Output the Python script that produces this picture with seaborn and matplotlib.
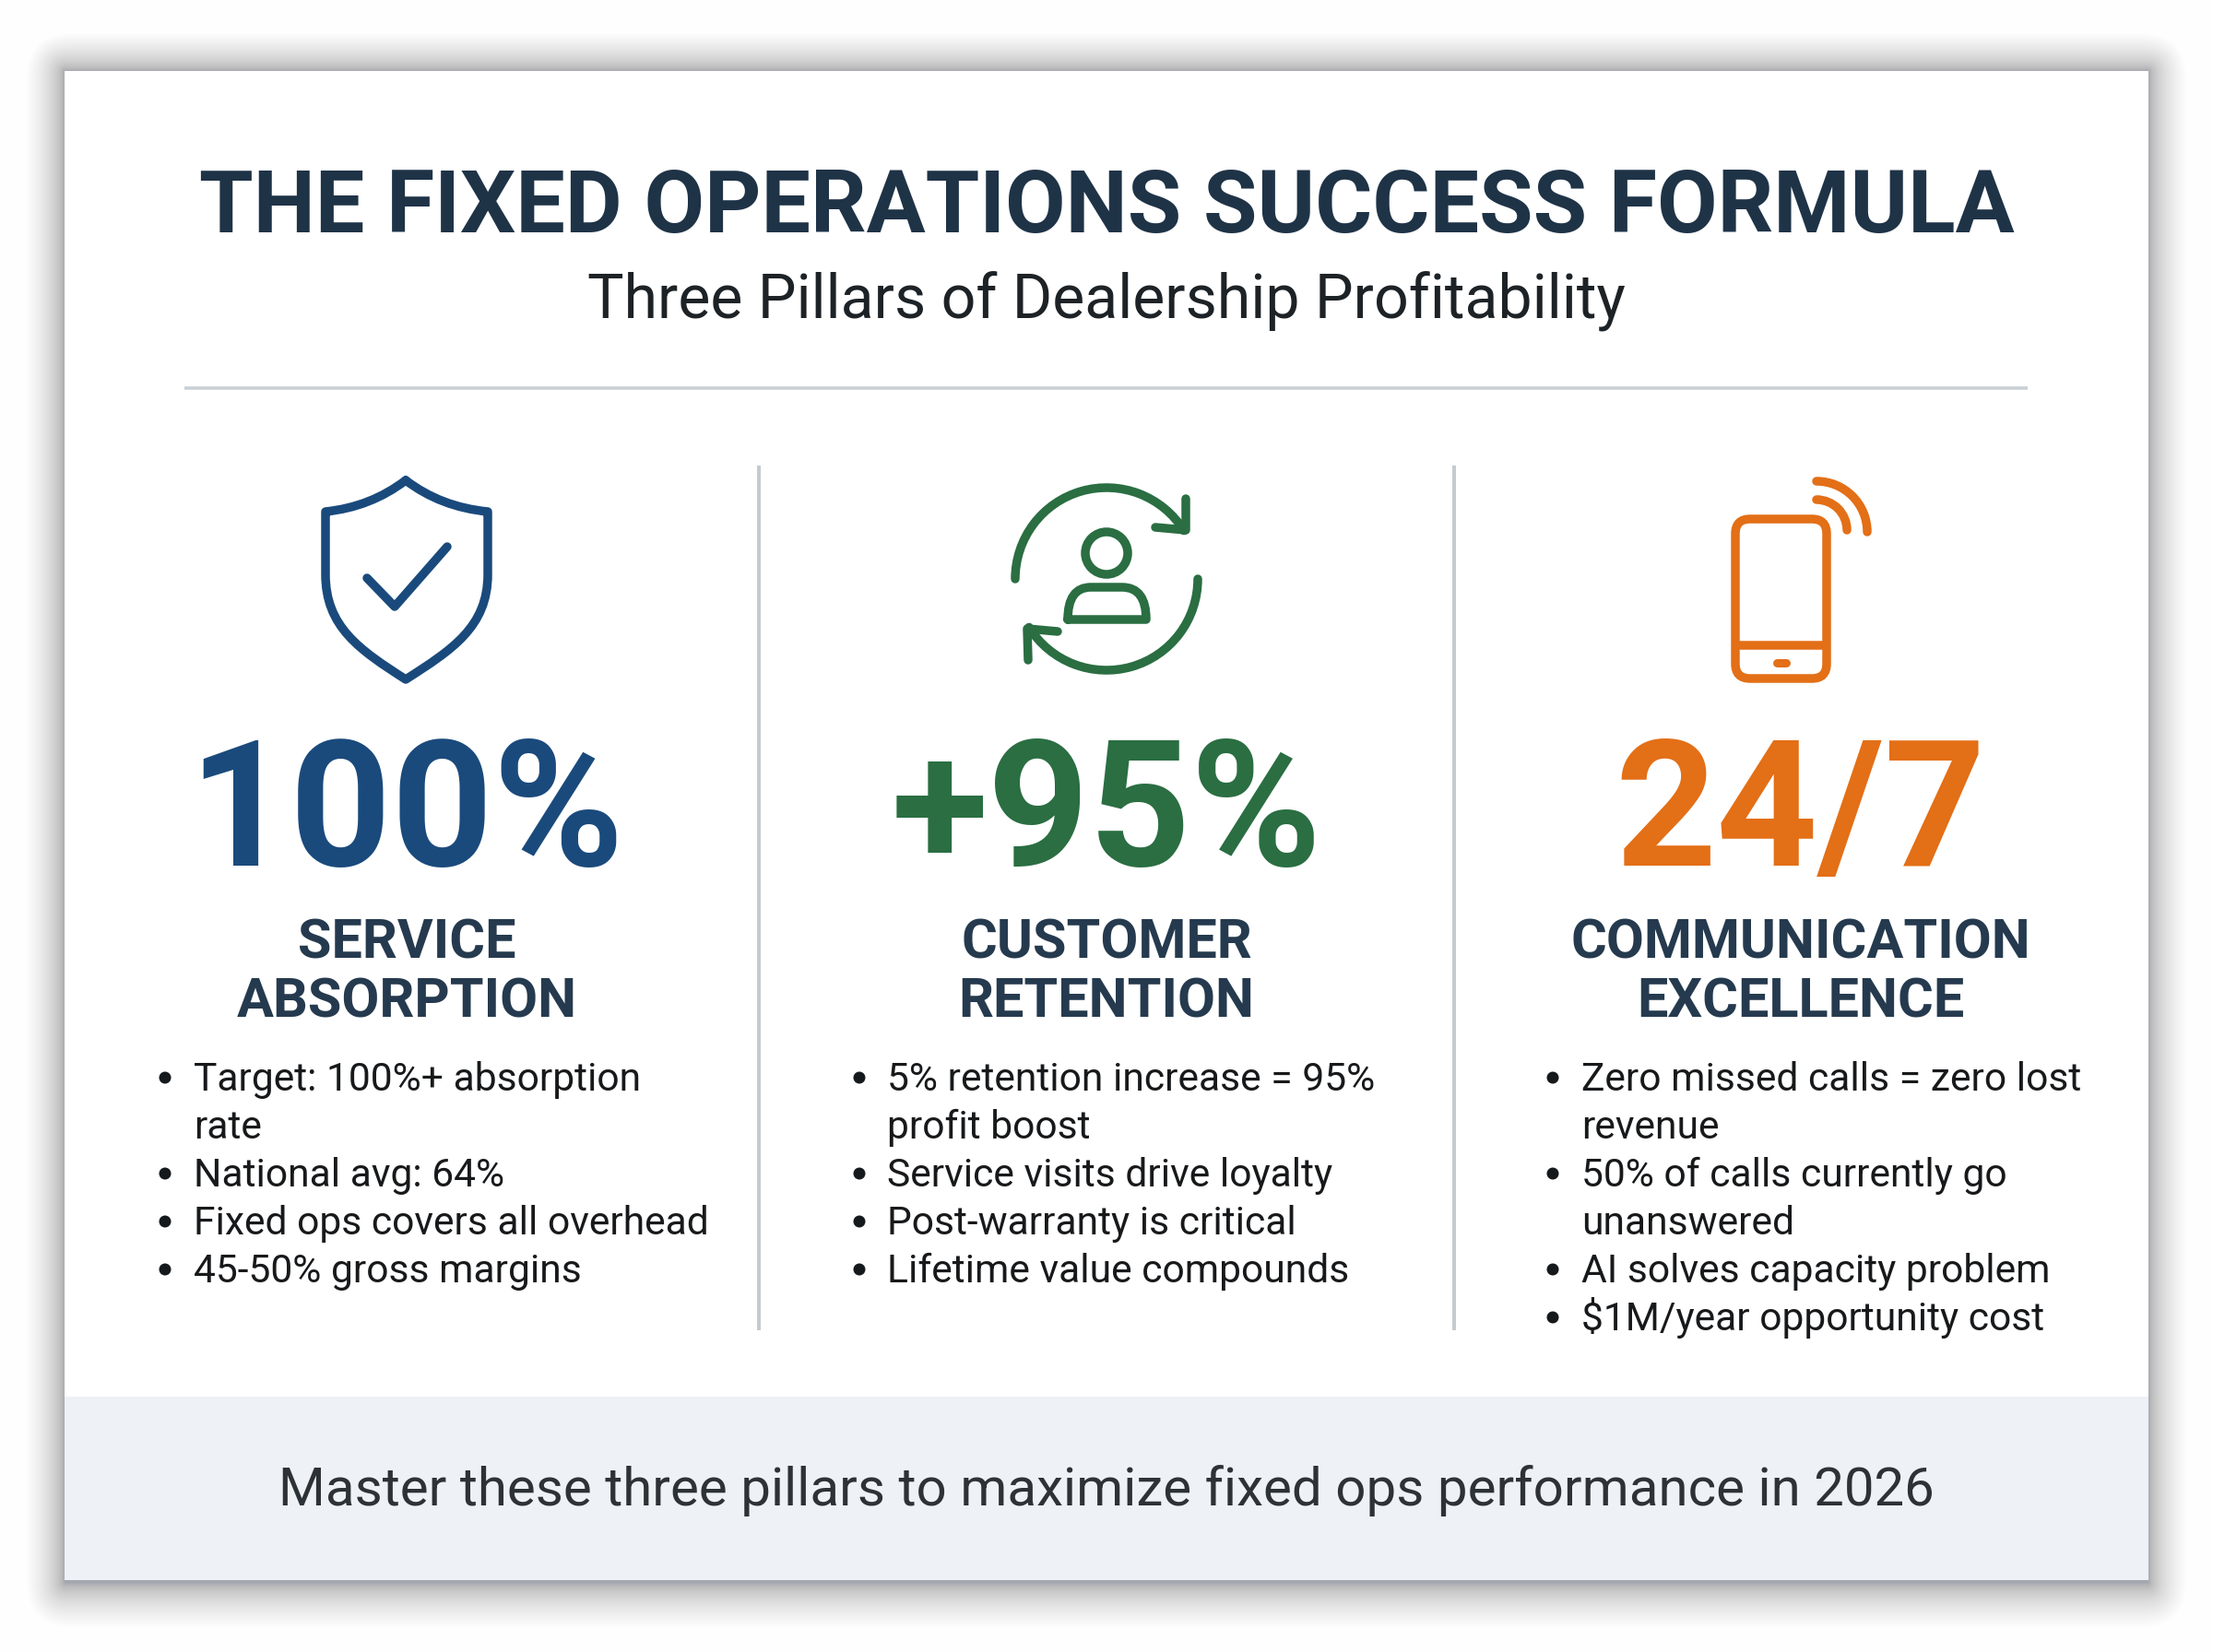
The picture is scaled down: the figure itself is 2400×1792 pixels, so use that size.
import numpy as np
import matplotlib
matplotlib.use("Agg")
import matplotlib.pyplot as plt
from matplotlib.patches import Rectangle, FancyBboxPatch, PathPatch, Circle, Arc
from matplotlib.path import Path
import seaborn as sns

TITLE = "THE FIXED OPERATIONS SUCCESS FORMULA"
SUBTITLE = "Three Pillars of Dealership Profitability"
FOOTER = "Master these three pillars to maximize fixed ops performance in 2026"
METRICS = ["100%", "+95%", "24/7"]
HEADINGS = [["SERVICE", "ABSORPTION"], ["CUSTOMER", "RETENTION"], ["COMMUNICATION", "EXCELLENCE"]]
BULLETS_1 = [["Target: 100%+ absorption", "rate"], ["National avg: 64%"], ["Fixed ops covers all overhead"], ["45-50% gross margins"]]
BULLETS_2 = [["5% retention increase = 95%", "profit boost"], ["Service visits drive loyalty"], ["Post-warranty is critical"], ["Lifetime value compounds"]]
BULLETS_3 = [["Zero missed calls = zero lost", "revenue"], ["50% of calls currently go", "unanswered"], ["AI solves capacity problem"], ["$1M/year opportunity cost"]]
COLORS = ["#1a4a7c", "#2a6e42", "#e36f17"]
CENTERS = [441, 1200, 1953]
TEXT_X = [210, 962, 1715]
BULLET_X = [179, 932, 1684]

sns.set_theme(style="white")
plt.rcParams["font.family"] = ["Roboto", "DejaVu Sans"]

DPI = 200
fig = plt.figure(figsize=(12, 8.96), dpi=DPI, facecolor="#fefefe")
ax = fig.add_axes([0, 0, 1, 1])
ax.set_xlim(0, 2400)
ax.set_ylim(1792, 0)
ax.axis("off")
sns.despine(ax=ax, left=True, bottom=True)
PX = 72 / DPI

# card shadow
L, T, R, B = 70, 77, 2330, 1714
for d in 48 * np.linspace(1, 0, 48) ** 2:
    ax.add_patch(FancyBboxPatch((L - d * .85, T - d * .85), R - L + d * 1.7, B - T + d * 1.85 + 3,
                                boxstyle=f"round,pad=0,rounding_size={d + 1}", fc="#2b3440", ec="none", alpha=.0085, zorder=1))
ax.add_patch(Rectangle((L, T), R - L, B - T, fc="#ffffff", ec="none", zorder=2))
ax.add_patch(Rectangle((L, 1515), R - L, B - 1515, fc="#eef1f6", ec="none", zorder=3))

def txt(x, y, s, size_px, color, weight="normal", ha="center"):
    ax.text(x, y, s, fontsize=size_px * PX, color=color, fontweight=weight, ha=ha, va="baseline", zorder=5)

txt(1200, 252, TITLE, 95.2, "#1f3347", "bold")
txt(1200, 346, SUBTITLE, 66.2, "#1d2226")
txt(1200, 1633, FOOTER, 58.3, "#2c3236")

# rules
ax.plot([200, 2199], [421, 421], color="#c8d0d5", lw=3.5 * PX, zorder=4, solid_capstyle="butt")
for x in (823, 1577):
    ax.plot([x, x], [505, 1443], color="#c3cbd0", lw=4 * PX, zorder=4, solid_capstyle="butt")

# columns
ALL_BULLETS = [BULLETS_1, BULLETS_2, BULLETS_3]
for i in range(3):
    txt(CENTERS[i], 939, METRICS[i], 192, COLORS[i], "bold")
    for j, h in enumerate(HEADINGS[i]):
        txt(CENTERS[i], 1040 + j * 63, h, 59.4, "#253a4e", "bold")
    y = 1183
    for item in ALL_BULLETS[i]:
        ax.add_patch(Circle((BULLET_X[i], y - 14), 6.5, fc="#15191c", ec="none", zorder=5))
        for line in item:
            txt(TEXT_X[i], y, line, 42.6, "#17191b", ha="left")
            y += 52

LW = 9.5 * PX
def stroke(verts, codes=None, color="k", lw=LW):
    ax.add_patch(PathPatch(Path(verts, codes), fc="none", ec=color, lw=lw, capstyle="round", joinstyle="round", zorder=5))

# shield icon
C = Path.CURVE3; C4 = Path.CURVE4; M = Path.MOVETO; LN = Path.LINETO
stroke([(440, 521), (478, 550), (529, 555), (529, 623), (529, 680), (490, 705), (440, 737),
        (390, 705), (353, 680), (353, 623), (353, 555), (402, 550), (440, 521)],
       [M, C, C, LN, C4, C4, C4, C4, C4, C4, LN, C, C], COLORS[0])
stroke([(398, 627), (428, 658), (485, 593)], None, COLORS[0])

# retention icon
c2 = COLORS[1]
ax.add_patch(Arc((1200, 628), 198, 198, theta1=180, theta2=328, ec=c2, lw=LW, capstyle="round", zorder=5))
ax.add_patch(Arc((1200, 628), 198, 198, theta1=0, theta2=148, ec=c2, lw=LW, capstyle="round", zorder=5))
stroke([(1286, 541), (1286, 575), (1253, 572)], None, c2)
stroke([(1115, 716), (1114, 682), (1147, 685)], None, c2)
ax.add_patch(Circle((1200, 600), 23, fc="none", ec=c2, lw=LW, zorder=5))
stroke([(1158, 672), (1158, 637), (1183, 637), (1217, 637), (1243, 637), (1243, 672), (1158, 672)],
       [M, C, C, LN, C, C, LN], c2)

# phone icon
c3 = COLORS[2]
ax.add_patch(FancyBboxPatch((1882, 563), 99, 173, boxstyle="round,pad=0,rounding_size=16", fc="none", ec=c3, lw=LW, zorder=5))
ax.plot([1882, 1981], [700, 700], color=c3, lw=LW, zorder=5, solid_capstyle="butt")
ax.plot([1927, 1937], [719, 719], color=c3, lw=9 * PX, zorder=5, solid_capstyle="round")
ax.add_patch(Arc((1970, 577), 110, 110, theta1=270, theta2=360, ec=c3, lw=LW, capstyle="round", zorder=5))
ax.add_patch(Arc((1970, 575), 66, 66, theta1=270, theta2=360, ec=c3, lw=LW, capstyle="round", zorder=5))

fig.savefig("out.png", dpi=DPI, facecolor=fig.get_facecolor())
